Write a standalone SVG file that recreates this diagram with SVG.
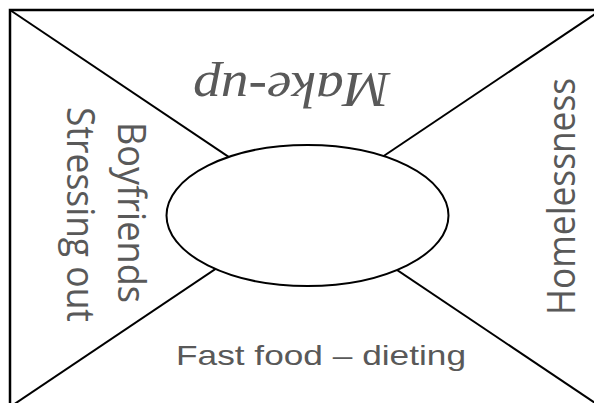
<svg xmlns="http://www.w3.org/2000/svg" width="594" height="403" viewBox="0 0 594 403">
  <style>
    .frame { fill: #ffffff; stroke: #000000; stroke-width: 2.5; }
    .line { stroke: #000000; stroke-width: 2; fill: none; }
    .oval { fill: #ffffff; stroke: #000000; stroke-width: 2; }
    .lbl { fill: #595959; font-family: "Open Sans", "Noto Sans", "Liberation Sans", sans-serif; font-size: 38px; }
    .script { fill: #595959; font-family: "Liberation Serif", "DejaVu Serif", serif; font-style: italic; font-size: 50px; }
    .hand { fill: #595959; font-family: "Liberation Sans", "DejaVu Sans", sans-serif; font-size: 28px; }
  </style>
  <rect width="594" height="403" fill="#ffffff"/>
  <g id="frame">
    <rect class="frame" x="10" y="10" width="591" height="397"/>
  </g>
  <g id="connectors">
    <line class="line" x1="10" y1="10" x2="601" y2="407"/>
    <line class="line" x1="601" y1="10" x2="10" y2="407"/>
  </g>
  <g id="center">
    <ellipse class="oval" cx="307.5" cy="215.5" rx="141" ry="70.5"/>
  </g>
  <g id="makeup">
    <text class="script" transform="translate(291.5,73) rotate(180)" x="0" y="0" text-anchor="middle" textLength="197" lengthAdjust="spacingAndGlyphs">Make-up</text>
  </g>
  <g id="boyfriends">
    <text class="lbl" transform="translate(118,122) rotate(90)" x="0" y="0" textLength="181" lengthAdjust="spacingAndGlyphs">Boyfriends</text>
  </g>
  <g id="stressing">
    <text class="lbl" transform="translate(67,107) rotate(90)" x="0" y="0" textLength="215" lengthAdjust="spacingAndGlyphs">Stressing out</text>
  </g>
  <g id="homelessness">
    <text class="lbl" transform="translate(575,315) rotate(-90)" x="0" y="0" textLength="237" lengthAdjust="spacingAndGlyphs">Homelessness</text>
  </g>
  <g id="fastfood">
    <text class="hand" x="176" y="365" textLength="290" lengthAdjust="spacingAndGlyphs">Fast food – dieting</text>
  </g>
</svg>
